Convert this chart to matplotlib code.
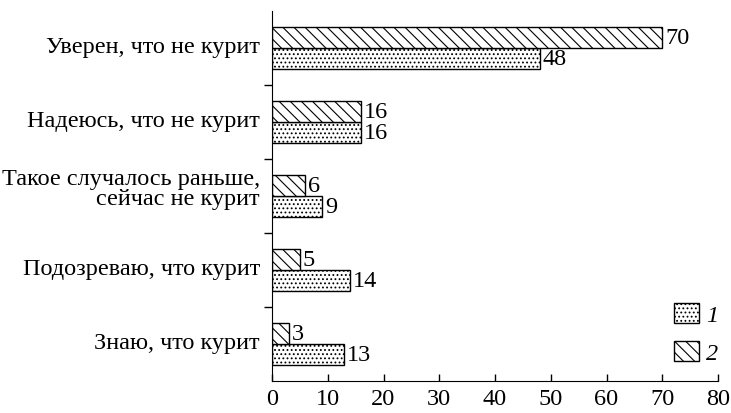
import matplotlib.pyplot as plt
import numpy as np
from matplotlib.patches import Patch

plt.rcParams["font.family"] = ["Liberation Serif", "DejaVu Serif"]
plt.rcParams["hatch.linewidth"] = 0.8

categories = [
    "Уверен, что не курит",
    "Надеюсь, что не курит",
    "Такое случалось раньше,\nсейчас не курит",
    "Подозреваю, что курит",
    "Знаю, что курит",
]
series1 = [48, 16, 9, 14, 13]
series2 = [70, 16, 6, 5, 3]
x_ticks = [0, 10, 20, 30, 40, 50, 60, 70, 80]

FS = 17.5
DOTS = "...."
LINES = "\\\\\\"

fig = plt.figure(figsize=(7.31, 4.14), dpi=100)
ax = fig.add_axes([272 / 731, 32 / 414, 446 / 731, 370 / 414])

pos = np.arange(len(categories))
h = 0.29
ax.barh(pos + h / 2, series1, height=h, facecolor="white", edgecolor="black",
        linewidth=1.0, hatch=DOTS)
ax.barh(pos - h / 2, series2, height=h, facecolor="white", edgecolor="black",
        linewidth=1.0, hatch=LINES)

for y, v in zip(pos + h / 2, series1):
    ax.text(v + 0.5, y, str(v), va="center", ha="left", fontsize=FS)
for y, v in zip(pos - h / 2, series2):
    ax.text(v + 0.5, y, str(v), va="center", ha="left", fontsize=FS)

ax.set_xlim(0, 80)
ax.set_ylim(len(categories) - 0.5, -0.5)
ax.set_xticks(x_ticks)
ax.set_xticklabels([str(t) for t in x_ticks], fontsize=FS)
ax.tick_params(axis="x", direction="in", length=5, width=1, pad=5)

ax.set_yticks(np.arange(len(categories) - 1) + 0.5)
ax.set_yticklabels([])
ax.tick_params(axis="y", direction="out", length=6, width=1)
for y, label in zip(pos, categories):
    shift = -0.1 if "\n" in label else -0.02
    ax.text(-0.027, y + shift, label, transform=ax.get_yaxis_transform(), ha="right",
            va="center", fontsize=FS, linespacing=0.95)

ax.spines["top"].set_visible(False)
ax.spines["right"].set_visible(False)

handles = [
    Patch(facecolor="white", edgecolor="black", hatch=DOTS),
    Patch(facecolor="white", edgecolor="black", hatch=LINES),
]
ax.legend(handles, ["1", "2"], loc="lower right", frameon=False,
          prop={"style": "italic", "size": FS}, handlelength=1.0,
          handleheight=0.9, handletextpad=0.3, labelspacing=0.6,
          borderpad=0, borderaxespad=0, bbox_to_anchor=(1.0, 0.045))

fig.savefig("out.png", dpi=100)
